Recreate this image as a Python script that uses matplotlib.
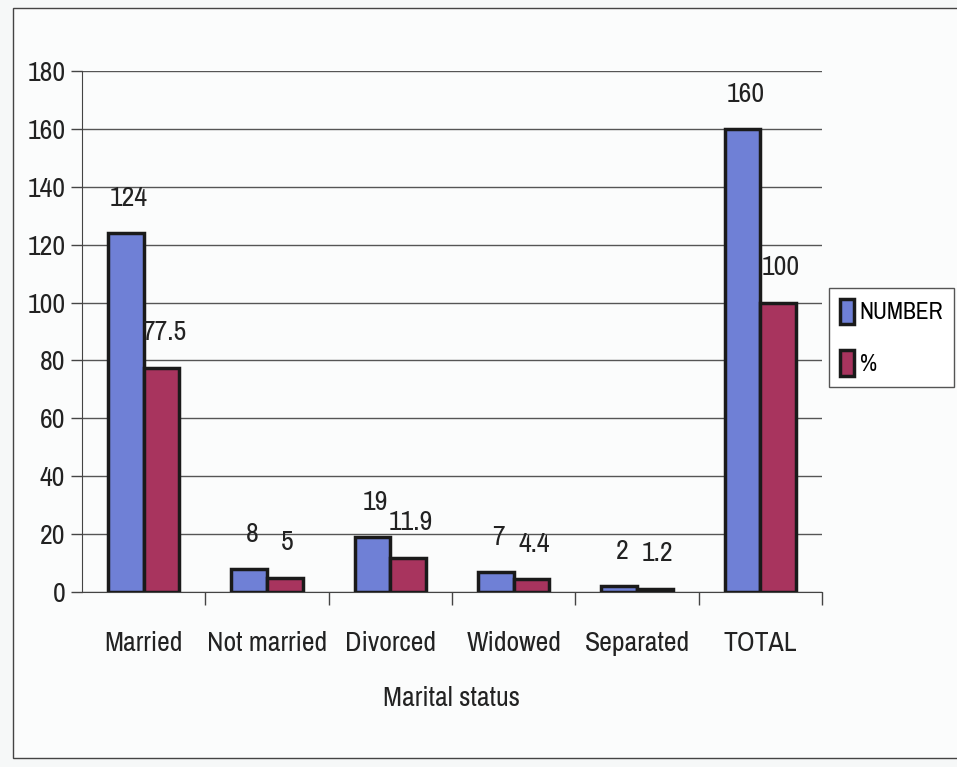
import matplotlib
matplotlib.use("Agg")
import matplotlib.pyplot as plt
from matplotlib import font_manager
import numpy as np
from matplotlib.patches import Rectangle

categories = ["Married", "Not married", "Divorced", "Widowed", "Separated", "TOTAL"]
number = [124, 8, 19, 7, 2, 160]
percent = [77.5, 5, 11.9, 4.4, 1.2, 100]
number_labels = ["124", "8", "19", "7", "2", "160"]
percent_labels = ["77.5", "5", "11.9", "4.4", "1.2", "100"]
yticks = [0, 20, 40, 60, 80, 100, 120, 140, 160, 180]

blue = "#6f80d6"
red = "#a8345e"


def pick_narrow_font():
    """Prefer a condensed/narrow sans face when one is installed."""
    narrow = []
    for f in font_manager.fontManager.ttflist:
        stretch = str(f.stretch)
        if ("Narrow" in f.name or "Condensed" in f.name
                or stretch in ("condensed", "semi-condensed", "extra-condensed")):
            if f.style == "normal" and f.weight in (400, "normal", "regular"):
                narrow.append(f)
    if narrow:
        f = sorted(narrow, key=lambda e: ("Liberation" not in e.name, e.name))[0]
        return f.fname
    return None


narrow_file = pick_narrow_font()
if narrow_file:
    base = font_manager.FontProperties(fname=narrow_file)
    SZ = 20
else:
    plt.rcParams['font.family'] = ['Liberation Sans', 'DejaVu Sans']
    base = font_manager.FontProperties(family=['Liberation Sans', 'DejaVu Sans'])
    SZ = 16


def fprop(size):
    p = base.copy()
    p.set_size(size)
    return p


fig = plt.figure(figsize=(9.57, 7.67), dpi=100)
fig.patch.set_facecolor("#f6f8f8")

# outer chart-area frame
fig.add_artist(Rectangle((13 / 957, 1 - 758 / 767), (957 - 13) / 957 + 0.01, (758 - 8) / 767,
                         transform=fig.transFigure, fill=True, facecolor="#fbfcfc",
                         edgecolor="#444444", linewidth=1.0, zorder=0))

ax = fig.add_axes([82 / 957, 1 - 592 / 767, (822 - 82) / 957, (592 - 71) / 767])
ax.set_facecolor("none")

x = np.arange(len(categories))
w = 0.29
b1 = ax.bar(x - w / 2, number, w, color=blue, edgecolor="#1a1a1a", linewidth=2.5, zorder=3, label="NUMBER")
b2 = ax.bar(x + w / 2, percent, w, color=red, edgecolor="#1a1a1a", linewidth=2.5, zorder=3, label="%")

for xi, v, t in zip(x - w / 2, number, number_labels):
    ax.annotate(t, (xi, v), xytext=(2, 16), textcoords="offset points",
                ha="center", va="bottom", fontproperties=fprop(SZ), color="#222222")
for xi, v, t in zip(x + w / 2, percent, percent_labels):
    ax.annotate(t, (xi, v), xytext=(2, 16), textcoords="offset points",
                ha="center", va="bottom", fontproperties=fprop(SZ), color="#222222")

ax.set_xlim(-0.5, len(categories) - 0.5)
ax.set_ylim(0, 180)
ax.set_yticks(yticks)
ax.set_yticklabels([str(v) for v in yticks], fontproperties=fprop(SZ), color="#222222")
ax.yaxis.grid(True, color="#555555", linewidth=1.0, zorder=0)
ax.set_axisbelow(True)

ax.set_xticks(x)
ax.set_xticklabels(categories, fontproperties=fprop(SZ), color="#222222")
ax.set_xticks(np.arange(len(categories)) + 0.5, minor=True)
ax.tick_params(axis="x", which="major", length=0, pad=28)
ax.tick_params(axis="x", which="minor", length=9, color="#444444", width=1)
ax.tick_params(axis="y", length=8, color="#444444", width=1, pad=4)

for s in ["top", "right"]:
    ax.spines[s].set_visible(False)
ax.spines["left"].set_color("#444444")
ax.spines["bottom"].set_color("#444444")

ax.set_xlabel("Marital status", fontproperties=fprop(SZ), color="#222222", labelpad=22)

leg = fig.legend(handles=[b1, b2], labels=["NUMBER", "%"], loc="upper right",
                 bbox_to_anchor=(954 / 957, 1 - 288 / 767), prop=fprop(SZ - 3),
                 frameon=True, fancybox=False, edgecolor="#555555", framealpha=1,
                 handlelength=0.6, handleheight=1.3, handletextpad=0.25,
                 borderpad=0.45, labelspacing=1.1, borderaxespad=0)
leg.get_frame().set_linewidth(1.0)

fig.savefig("out.png", dpi=100, facecolor=fig.get_facecolor())
